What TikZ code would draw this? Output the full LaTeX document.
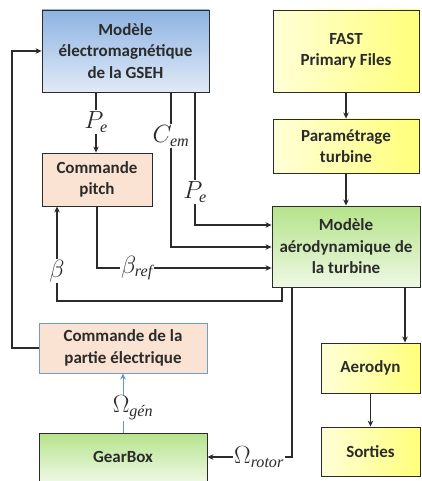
\documentclass[tikz,border=0pt]{standalone}
\usepackage{amsmath}
\usepackage{fontspec}
\setmainfont{Carlito}
\newfontfamily\subfont{Liberation Serif}
\usepackage{tikz}
\usetikzlibrary{arrows.meta}
\definecolor{LineInk}{HTML}{2B2B2B}
\definecolor{ModelTop}{HTML}{8DB3E2}
\definecolor{ModelBottom}{HTML}{E1EAF7}
\definecolor{AeroTop}{HTML}{B5E38A}
\definecolor{AeroBottom}{HTML}{EEF8E4}
\definecolor{FileLight}{HTML}{FFFFD8}
\definecolor{FileDeep}{HTML}{FFFF7A}
\definecolor{CmdFill}{HTML}{FBE3D3}
\definecolor{CmdBorder}{HTML}{6F9CCB}
\definecolor{SignalBlue}{HTML}{5B9BD5}
\newcommand{\SubTxt}[1]{\text{\normalfont\subfont\itshape #1}}
\tikzset{
  diagram/.style={x=1pt,y=-1pt,font=\fontsize{17}{21.5}\selectfont\bfseries,text=LineInk},
  block/.style={draw=LineInk,line width=0.9pt,align=center,inner sep=2pt},
  modelbox/.style={block,top color=ModelTop,bottom color=ModelBottom},
  aerobox/.style={block,top color=AeroTop,bottom color=AeroBottom},
  filebox/.style={block,left color=FileLight,right color=FileDeep},
  cmdbox/.style={block,fill=CmdFill},
  signal/.style={font=\fontsize{23}{26}\selectfont,inner sep=1pt},
  link/.style={line width=1.1pt,draw=LineInk},
  flow/.style={link,-{Stealth[length=6pt,width=5.5pt]}},
}

\begin{document}
\begin{tikzpicture}[diagram]
  \useasboundingbox (0,0) rectangle (422,481);

  % blocs
  \node[modelbox,minimum width=167pt,minimum height=82pt] (gseh) at (125.5,51)
    {Modèle\\électromagnétique\\de la GSEH};
  \node[filebox,minimum width=146pt,minimum height=82pt] (fast) at (346,51)
    {FAST\\Primary Files};
  \node[filebox,minimum width=146pt,minimum height=54pt] (param) at (346,146)
    {Paramétrage\\turbine};
  \node[cmdbox,minimum width=110pt,minimum height=53pt] (pitch) at (97,179.5)
    {Commande\\pitch};
  \node[aerobox,minimum width=148pt,minimum height=81pt] (aero) at (346,246.5)
    {Modèle\\aérodynamique de\\la turbine};
  \node[cmdbox,draw=CmdBorder,minimum width=168pt,minimum height=50pt] (elec) at (123,348)
    {Commande de la\\partie électrique};
  \node[aerobox,minimum width=168pt,minimum height=48pt] (gear) at (123,457) {GearBox};
  \node[filebox,minimum width=99pt,minimum height=50pt] (aerodyn) at (370.5,368) {Aerodyn};
  \node[filebox,minimum width=99pt,minimum height=49pt] (sorties) at (370.5,451.5) {Sorties};

  % signaux
  \node[signal] (pe1) at (96,122) {$P_{\SubTxt{e}}$};
  \node[signal] (cem) at (171,136) {$C_{\SubTxt{em}}$};
  \node[signal] (pe2) at (195,192) {$P_{\SubTxt{e}}$};
  \node[signal] (bref) at (137,268) {$\beta_{\SubTxt{ref}}$};
  \node[signal] (beta) at (57,271) {$\beta$};
  \node[signal] (wrot) at (259,457) {$\Omega_{\SubTxt{rotor}}$};
  \node[signal] (wgen) at (133,408) {$\Omega_{\SubTxt{gén}}$};
  \coordinate (loop) at (12,348);

  % liaisons
  \draw[flow] (fast) -- (param);
  \draw[flow] (param) -- (aero);
  \draw[flow] (aero.south -| 405,0) -- (aerodyn.north -| 405,0);
  \draw[flow] (aerodyn) -- (sorties);

  \draw[link] (gseh.south -| pe1) -- (pe1.north);
  \draw[flow] (pe1.south) -- (pitch.north -| pe1);
  \draw[link] (gseh.south -| cem) -- (cem.north);
  \draw[flow] (cem.south) |- (aero.west |- 0,247);
  \draw[link] (gseh.south -| pe2) -- (pe2.north);
  \draw[flow] (pe2.south) |- (aero.west |- 0,225);
  \draw[link] (pitch.south) |- (bref.west);
  \draw[flow] (bref.east) -- (aero.west |- bref);
  \draw[link] (aero.south -| 282,0) |- (beta.south |- 0,301) -- (beta.south);
  \draw[flow] (beta.north) -- (pitch.south -| beta);
  \draw[link] (aero.south -| 292,0) |- (wrot.east);
  \draw[flow] (wrot.west) -- (gear.east |- wrot);
  \draw[flow] (elec.west) -- (loop) |- (gseh.west);
  \draw[line width=1pt,draw=SignalBlue] (gear.north) -- (wgen.south -| gear);
  \draw[line width=1pt,draw=SignalBlue,-{Stealth[length=6pt,width=5.5pt]}]
    (wgen.north -| gear) -- (elec.south);
\end{tikzpicture}
\end{document}
